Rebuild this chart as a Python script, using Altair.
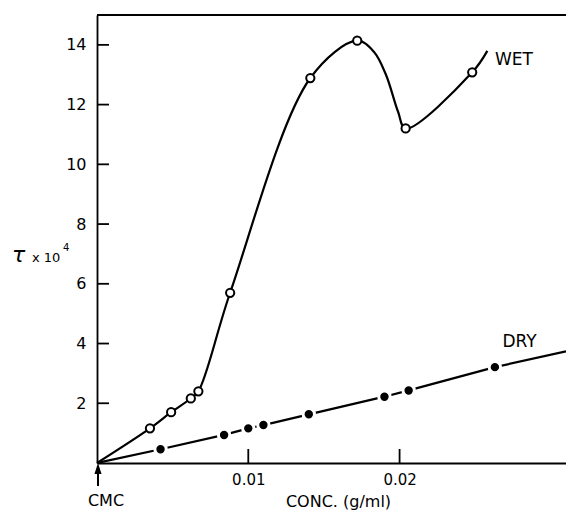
import altair as alt
import pandas as pd

# ---- data ----
wet_x = [0.0, 0.0035, 0.0049, 0.0062, 0.0067, 0.0088, 0.0141, 0.0172, 0.0183, 0.0191,
         0.0199, 0.0204, 0.0248, 0.0258]
wet_y = [0.0, 1.16, 1.70, 2.16, 2.40, 5.70, 12.89, 14.14, 13.77, 13.00,
         11.76, 11.20, 13.08, 13.80]
wet_marker = [False, True, True, True, True, True, True, True, False, False,
              False, True, True, False]

dry_x = [0.0, 0.0042, 0.0084, 0.0100, 0.0110, 0.0140, 0.0190, 0.0206, 0.0263, 0.0310]
dry_y = [0.0, 0.46, 0.94, 1.16, 1.27, 1.63, 2.22, 2.43, 3.21, 3.74]
dry_marker = [False, True, True, True, True, True, True, True, True, False]

y_tick_values = [2, 4, 6, 8, 10, 12, 14]
x_tick_values = [0.01, 0.02]

series_labels = ["WET", "DRY"]
label_x = [0.0263, 0.0268]
label_y = [13.5, 4.05]

W, H = 469, 448
FONT = "DejaVu Sans"

wet = pd.DataFrame({"x": wet_x, "y": wet_y, "m": wet_marker})
dry = pd.DataFrame({"x": dry_x, "y": dry_y, "m": dry_marker})
labels = pd.DataFrame({"x": label_x, "y": label_y, "t": series_labels})
yt = pd.DataFrame({"y": y_tick_values})
xt = pd.DataFrame({"x": x_tick_values})
one = pd.DataFrame({"k": [0]})

xs = alt.Scale(domain=[0, 0.031], nice=False, zero=False)
ys = alt.Scale(domain=[0, 15], nice=False, zero=False)

x_axis = alt.Axis(values=x_tick_values, format=".2f", tickSize=0, labelPadding=9,
                  labelFontSize=15, labelFont=FONT, labelColor="black",
                  domainColor="black", domainWidth=1.8, grid=False,
                  title="CONC. (g/ml)", titleFont=FONT, titleFontSize=16,
                  titleFontWeight="normal", titleColor="black",
                  titleX=241, titleY=43, titleBaseline="alphabetic")
y_axis = alt.Axis(values=y_tick_values, format="d", tickSize=0, labelPadding=11,
                  labelFontSize=16, labelFont=FONT, labelColor="black",
                  domainColor="black", domainWidth=1.8, grid=False, title=None)

X = alt.X("x:Q", scale=xs, axis=x_axis)
Y = alt.Y("y:Q", scale=ys, axis=y_axis)

wet_line = alt.Chart(wet).mark_line(color="black", strokeWidth=2.2,
                                    interpolate="catmull-rom").encode(x=X, y=Y)
wet_pts = alt.Chart(wet).transform_filter("datum.m").mark_point(
    shape="circle", filled=True, fill="white", stroke="black",
    strokeWidth=2, size=68, opacity=1).encode(x=X, y=Y)

dry_line = alt.Chart(dry).mark_line(color="black", strokeWidth=2.2,
                                    clip=True).encode(x=X, y=Y)
dry_pts = alt.Chart(dry).transform_filter("datum.m").mark_point(
    shape="circle", filled=True, fill="black", stroke="white",
    strokeWidth=3, size=130, opacity=1).encode(x=X, y=Y)

lbl = alt.Chart(labels).mark_text(align="left", baseline="middle",
                                  font=FONT, fontSize=17, color="black").encode(
    x=X, y=Y, text="t:N")

ytick = alt.Chart(yt).mark_rule(color="black", strokeWidth=1.8).encode(
    y=Y, x=alt.value(0), x2=alt.value(12))
xtick = alt.Chart(xt).mark_rule(color="black", strokeWidth=1.8).encode(
    x=X, y=alt.value(H), y2=alt.value(H - 14))

top_line = alt.Chart(one).mark_rule(color="black", strokeWidth=1.8).encode(
    y=alt.value(0), x=alt.value(0), x2=alt.value(W))

tau = alt.Chart(one).mark_text(text="τ", align="left", baseline="alphabetic",
                               font=FONT, fontSize=22, fontStyle="italic",
                               color="black").encode(x=alt.value(-85), y=alt.value(247))
x10 = alt.Chart(one).mark_text(text="x 10", align="left", baseline="alphabetic",
                               font=FONT, fontSize=13, color="black").encode(
    x=alt.value(-65), y=alt.value(247))
sup4 = alt.Chart(one).mark_text(text="4", align="left", baseline="alphabetic",
                                font=FONT, fontSize=10, color="black").encode(
    x=alt.value(-34), y=alt.value(236))

arrow = alt.Chart(one).mark_rule(color="black", strokeWidth=2).encode(
    x=alt.value(1), y=alt.value(455), y2=alt.value(471))
arrow_head = alt.Chart(one).mark_point(shape="M0,-1L0.65,1L-0.65,1Z", filled=True,
                                       color="black", size=121, opacity=1).encode(
    x=alt.value(1), y=alt.value(H + 5.5))
cmc = alt.Chart(one).mark_text(text="CMC", align="center", baseline="middle",
                               font=FONT, fontSize=16, color="black").encode(
    x=alt.value(9), y=alt.value(486))

chart = alt.layer(
    wet_line, dry_line, wet_pts, dry_pts, lbl, ytick, xtick, top_line,
    tau, x10, sup4, arrow, arrow_head, cmc
).properties(
    width=W, height=H,
    padding={"left": 89, "top": 7, "right": 0, "bottom": 48},
    autosize=alt.AutoSizeParams(type="none"),
    background="white",
).configure_view(stroke=None)

chart.save("out.html", embed_options={"renderer": "svg", "actions": False})
